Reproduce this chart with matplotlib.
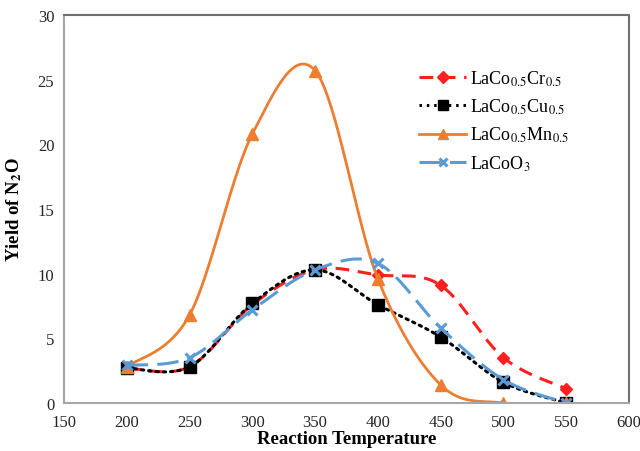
import numpy as np
import matplotlib
matplotlib.use("Agg")
import matplotlib.pyplot as plt

plt.rcParams['font.family'] = ['Liberation Serif', 'DejaVu Serif']
plt.rcParams['mathtext.fontset'] = 'stix'

temps = [200, 250, 300, 350, 400, 450, 500, 550]
cr = [2.7, 2.8, 7.6, 10.3, 9.9, 9.1, 3.5, 1.1]
cu = [2.7, 2.8, 7.7, 10.3, 7.6, 5.1, 1.6, 0.0]
mn = [2.8, 6.8, 20.8, 25.7, 9.6, 1.4, 0.0, 0.0]
co = [2.9, 3.5, 7.2, 10.3, 10.8, 5.8, 1.8, 0.0]
labels = [r'LaCo$_{0.5}$Cr$_{0.5}$', r'LaCo$_{0.5}$Cu$_{0.5}$',
          r'LaCo$_{0.5}$Mn$_{0.5}$', r'LaCoO$_{3}$']


def smooth(x, y, n=40, t=1/6):
    x = np.asarray(x, float); y = np.asarray(y, float)
    xs, ys = [], []
    m = len(x)
    for i in range(m - 1):
        p0 = np.array([x[max(i - 1, 0)], y[max(i - 1, 0)]])
        p1 = np.array([x[i], y[i]])
        p2 = np.array([x[i + 1], y[i + 1]])
        p3 = np.array([x[min(i + 2, m - 1)], y[min(i + 2, m - 1)]])
        c1 = p1 + (p2 - p0) * t
        c2 = p2 - (p3 - p1) * t
        s = np.linspace(0, 1, n)[:, None]
        pts = (1 - s) ** 3 * p1 + 3 * (1 - s) ** 2 * s * c1 + 3 * (1 - s) * s ** 2 * c2 + s ** 3 * p2
        xs.extend(pts[:, 0]); ys.extend(pts[:, 1])
    return np.array(xs), np.array(ys)


fig = plt.figure(figsize=(6.4, 4.52), dpi=100)
ax = fig.add_axes([64 / 640, 1 - 404 / 452, (629 - 64) / 640, (404 - 16) / 452])

styles = [
    dict(color='#FF1F1F', ls=(0, (4.5, 2.8)), marker='D', ms=6.5, lw=2.2),
    dict(color='black', ls=(0, (0.8, 1.6)), marker='s', ms=8, lw=2.2),
    dict(color='#ED7D31', ls='-', marker='^', ms=8, lw=2.0),
    dict(color='#5B9BD5', ls=(0, (7, 3)), marker='x', ms=7, lw=2.2),
]
series = [cr, cu, mn, co]
for ys, st, lab in zip(series, styles, labels):
    sx, sy = smooth(temps, ys)
    ax.plot(sx, sy, color=st['color'], ls=st['ls'], lw=st['lw'],
            dash_capstyle='round' if st['marker'] == 's' else 'butt')
    mkw = dict(markeredgewidth=2.2) if st['marker'] == 'x' else dict(markeredgecolor=st['color'])
    ax.plot(temps, ys, ls='none', marker=st['marker'], ms=st['ms'], color=st['color'], **mkw)
    ax.plot([], [], color=st['color'], ls=st['ls'], lw=st['lw'], marker=st['marker'],
            ms=st['ms'] * 0.9, label=lab, **mkw)

ax.set_xlim(150, 600)
ax.set_ylim(0, 30)
ax.set_xticks(np.arange(150, 601, 50))
ax.set_yticks(np.arange(0, 31, 5))
ax.tick_params(axis='both', labelsize=12, length=0, labelcolor='#262626')
ax.tick_params(axis='x', pad=8)
ax.tick_params(axis='y', pad=7)
for sp in ['left', 'bottom']:
    ax.spines[sp].set_color('#A6A6A6')
    ax.spines[sp].set_linewidth(1.5)
for sp in ['top', 'right']:
    ax.spines[sp].set_color('#707070')
    ax.spines[sp].set_linewidth(1.5)

ax.set_xlabel('Reaction Temperature', fontsize=13.5, fontweight='bold', labelpad=0)
ax.set_ylabel(r'Yield of N$_\mathbf{2}$O', fontsize=13.5, fontweight='bold', labelpad=10)

leg = ax.legend(loc='upper left', bbox_to_anchor=(0.6, 0.905), frameon=False,
                fontsize=13, handlelength=2.6, labelspacing=0.5, handletextpad=0.2)

fig.savefig('out.png', dpi=100)
